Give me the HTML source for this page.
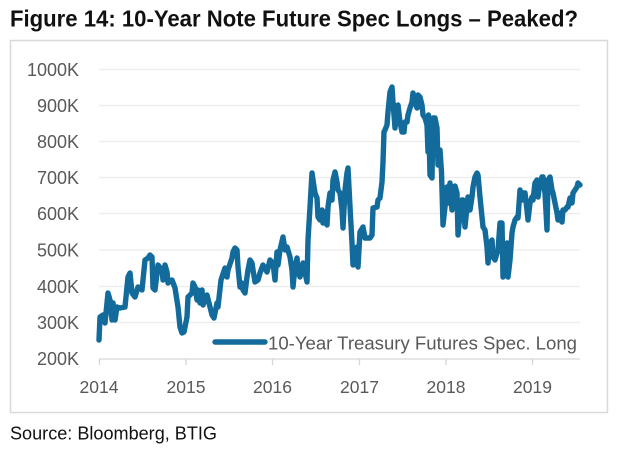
<!DOCTYPE html>
<html>
<head>
<meta charset="utf-8">
<style>
  html, body { margin:0; padding:0; background:#ffffff; }
  body { width:640px; height:452px; overflow:hidden; }
  svg { display:block; }
  text { font-family: "Liberation Sans", Arial, sans-serif; }
</style>
</head>
<body>
<svg width="640" height="452" viewBox="0 0 640 452" xmlns="http://www.w3.org/2000/svg">
  <rect x="0" y="0" width="640" height="452" fill="#ffffff"/>
  <!-- Title -->
  <text x="10" y="26.5" font-size="23" font-weight="bold" fill="#111111" textLength="568" lengthAdjust="spacingAndGlyphs">Figure 14: 10-Year Note Future Spec Longs – Peaked?</text>

  <!-- Chart box -->
  <rect x="10.5" y="40.5" width="597" height="372" fill="#ffffff" stroke="#d9d9d9" stroke-width="1.5"/>

  <!-- Gridlines -->
  <g stroke="#ececec" stroke-width="1.2">
    <line x1="99" y1="69.5" x2="580" y2="69.5"/>
    <line x1="99" y1="105.5" x2="580" y2="105.5"/>
    <line x1="99" y1="141.5" x2="580" y2="141.5"/>
    <line x1="99" y1="177.5" x2="580" y2="177.5"/>
    <line x1="99" y1="213.5" x2="580" y2="213.5"/>
    <line x1="99" y1="250" x2="580" y2="250"/>
    <line x1="99" y1="286.5" x2="580" y2="286.5"/>
    <line x1="99" y1="322.5" x2="580" y2="322.5"/>
  </g>
  <!-- Axis -->
  <g stroke="#d6d6d6" stroke-width="1.3">
    <line x1="99" y1="359" x2="580" y2="359"/>
    <line x1="99.5" y1="359" x2="99.5" y2="365"/>
    <line x1="186" y1="359" x2="186" y2="365"/>
    <line x1="272.5" y1="359" x2="272.5" y2="365"/>
    <line x1="359.5" y1="359" x2="359.5" y2="365"/>
    <line x1="446" y1="359" x2="446" y2="365"/>
    <line x1="532.5" y1="359" x2="532.5" y2="365"/>
  </g>

  <!-- Y labels -->
  <g font-size="18" fill="#595959" text-anchor="end">
    <text x="79" y="76">1000K</text>
    <text x="79" y="112">900K</text>
    <text x="79" y="148">800K</text>
    <text x="79" y="184">700K</text>
    <text x="79" y="220">600K</text>
    <text x="79" y="256.5">500K</text>
    <text x="79" y="293">400K</text>
    <text x="79" y="329">300K</text>
    <text x="79" y="365">200K</text>
  </g>
  <!-- X labels -->
  <g font-size="17.5" fill="#595959" text-anchor="middle">
    <text x="99" y="393">2014</text>
    <text x="186" y="393">2015</text>
    <text x="272.5" y="393">2016</text>
    <text x="359.5" y="393">2017</text>
    <text x="446" y="393">2018</text>
    <text x="532.5" y="393">2019</text>
  </g>

  <!-- Series -->
  <polyline fill="none" stroke="#126b9b" stroke-width="5.4" stroke-linejoin="round" stroke-linecap="round"
    points="99,340 100,317 103,315 105,323 108,293 110,300 112,320 113,303 115,320 117,307 120,308 125,307 128,277 130,273 132,293 135,297 138,287 142,290 145,260 148,258 150,255 152,257 153,288 155,290 158,265 162,270 163,280 165,265 167,272 168,283 172,280 175,288 178,307 180,327 182,333 184,332 187,317 188,297 192,293 193,283 195,287 197,300 198,290 200,303 202,290 203,305 207,295 210,307 212,315 214,318 217,303 218,307 221,280 225,268 227,277 228,270 232,258 233,252 235,248 237,250 238,267 240,287 242,283 243,290 245,293 247,277 248,270 250,260 252,263 253,270 255,282 258,280 260,273
    263,265 267,272 270,260 273,263 275,280 277,252 278,265 280,250 283,237 285,250 287,247 290,257 292,270 293,287 295,267 297,258 298,272 300,277 302,267 303,263 307,282 308,240 310,207 312,173 313,180 315,193 317,198 318,217 320,220 322,210 323,223 325,212 327,225 328,207 330,193 332,200 333,180 335,172 337,182 338,190 340,193 342,210 343,228 345,190 347,173 348,168 350,207 352,243 353,265 355,250 357,247 358,267
    360,232 363,227 365,238 370,238 372,235 373,208 377,207 378,200 380,198 382,182 383,162 384,132 385,130 387,125 388,112 390,92 392,87 393,102 395,128 397,108 398,105 400,122 402,132 404,132 405,122 407,122 408,115 410,108 412,102 413,93 415,102 417,108 418,95 420,97 422,105 423,115 425,118 427,125 428,152 428.5,115 430,175 432,178 433,118 435,118 437,128 438,165 440,150 441.5,172 443,225
    445,207 447,187 448,203 450,183 452,210 453,187 455,186 457,193 458,235 460,213 462,200 463,200 465,227 467,207 468,197 470,210 472,197 473,187 475,177 477,173 478,175 480,197 482,217 483,227 485,230 487,247 488,263 490,243 492,240 493,257 495,260 497,253 498,250 500,223 502,223 503,277 505,267 507,243 508,277 510,260 512,233 513,227 515,220 517,217 518,218 520,190 522,200 523,193 525,193 527,210 528,220 530,203 532,197 533,200 535,183 537,180 538,197 540,183 542,177 543,177 545,193 547,230 548,180 550,177 552,190 553,193 555,203 557,213 558,220 560,213 562,222 563,210 565,210 567,207 568,207 570,198 572,203 573,193 575,190 577,187 578,183 580,185"/>

  <!-- Legend -->
  <line x1="215" y1="342" x2="265" y2="342" stroke="#126b9b" stroke-width="5.4" stroke-linecap="round"/>
  <text x="268" y="349.5" font-size="18" fill="#595959" textLength="309" lengthAdjust="spacingAndGlyphs">10-Year Treasury Futures Spec. Long</text>

  <!-- Source -->
  <text x="10" y="439.5" font-size="18" fill="#111111" textLength="207" lengthAdjust="spacingAndGlyphs">Source: Bloomberg, BTIG</text>
</svg>
</body>
</html>
